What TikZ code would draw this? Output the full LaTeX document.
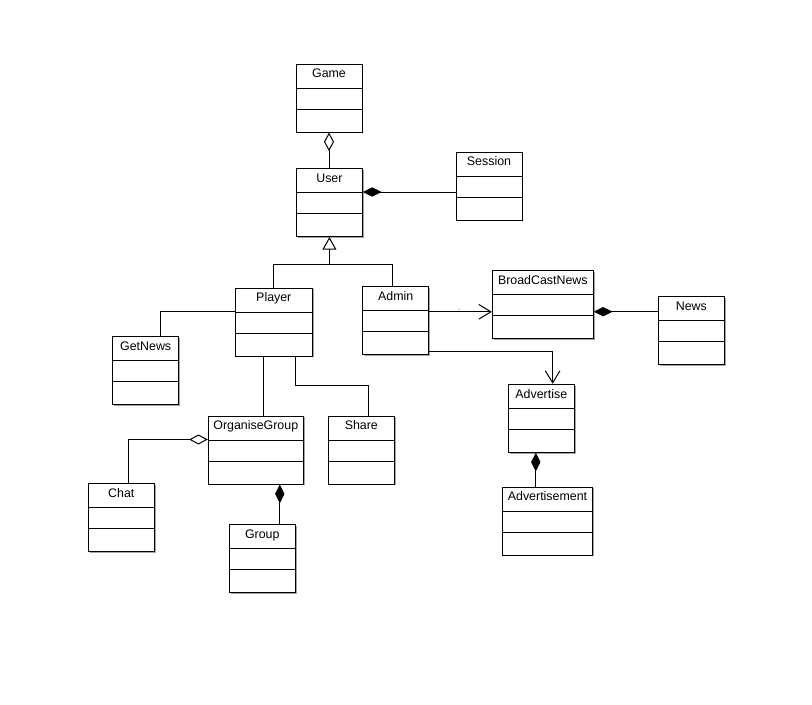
\documentclass[tikz,border=0pt]{standalone}
\usepackage{fontspec}
\setmainfont{Liberation Sans}
\usetikzlibrary{arrows.meta}
\usetikzlibrary{calc}
\usetikzlibrary{shadows}

\begin{document}
\begin{tikzpicture}[x=0.75pt,y=-0.75pt,line width=0.75pt,
  classbox/.style={draw,fill=white,
    minimum width={#1*0.75pt},minimum height=51pt,inner sep=0pt,
    drop shadow={shadow xshift=1.1pt,shadow yshift=-1.1pt,fill=black!35,opacity=1},
    path picture={
      \draw[line width=0.75pt]
        (path picture bounding box.north west) ++(0,24) -- ++(140,0)
        (path picture bounding box.north west) ++(0,45) -- ++(140,0);
      }},
  classbox/.default=66,
  classname/.style={anchor=north,inner sep=0pt,yshift=-3.7pt,
    font=\fontsize{9.3}{10}\selectfont,text height=6.7pt,text depth=1.8pt},
  composition/.style={{Diamond[length=14pt,width=7pt]}-},
  aggregation/.style={{Diamond[open,length=14pt,width=7.5pt]}-},
  generalization/.style={-{Triangle[open,length=9.5pt,width=10.5pt]}},
  dependency/.style={-{Straight Barb[length=9pt,width=11pt]}}]
      %\draw[help lines] (0,0) grid[step=50] (812,704); % Only for Development
      \useasboundingbox (0,0) rectangle (812,704);

      % classes
      \node[classbox,label={[classname]north:Game}] (game) at (329,98) {};
      \node[classbox,label={[classname]north:User}] (user) at (329.4,202.5) {};
      \node[classbox,label={[classname]north:Session}] (session) at (489,186) {};
      \node[classbox=77,label={[classname]north:Player}] (player) at (273.8,322) {};
      \node[classbox,label={[classname]north:Admin}] (admin) at (395.7,320.3) {};
      \node[classbox,label={[classname]north:GetNews}] (getnews) at (145.7,370.3) {};
      \node[classbox=95,label={[classname]north:OrganiseGroup}] (organisegroup) at (255.8,450) {};
      \node[classbox,label={[classname]north:Share}] (share) at (361.3,450) {};
      \node[classbox,label={[classname]north:Chat}] (chat) at (121.3,517.2) {};
      \node[classbox,label={[classname]north:Group}] (group) at (262.3,558.3) {};
      \node[classbox=101,label={[classname]north:BroadCastNews}] (broadcastnews) at (542.8,304.2) {};
      \node[classbox,label={[classname]north:News}] (news) at (691.3,330.3) {};
      \node[classbox,label={[classname]north:Advertise}] (advertise) at (541.3,418.2) {};
      \node[classbox=90,label={[classname]north:Advertisement}] (advertisement) at (547.5,521) {};

      % Game - User
      \draw[aggregation] (game.south) -- (game.south |- user.north);
      % User - Session
      \draw[composition] ($(user.north east)+(0,24)$) coordinate (us) -- (us -| session.west);
      % User - Player, Admin
      \coordinate (inh) at ($(user.south)+(0,27.6)$);
      \draw[generalization] (inh) -- (user.south);
      \draw (player.north) |- (inh) -| ([xshift=-2.2pt]admin.north);

      % Player
      \draw ($(player.north west)+(0,24)$) -| ([xshift=11pt]getnews.north);
      \draw ($(player.south west)+(29,0)$) coordinate (po) -- (po |- organisegroup.north);
      \draw ($(player.south west)+(61,0)$) -- ++(0,29) -| ([xshift=5.25pt]share.north);

      % OrganiseGroup
      \draw[aggregation] ($(organisegroup.north west)+(0,24)$) -| ([xshift=5.25pt]chat.north);
      \draw[composition] ($(organisegroup.south west)+(72,0)$) coordinate (og) -- (og |- group.north);

      % Admin
      \draw[dependency] ($(admin.north east)+(0,26)$) coordinate (ab) -- (ab -| broadcastnews.west)
        node[pos=0.48,above,inner sep=0.3pt,font=\tiny] {.};
      \draw[dependency] ($(admin.north east)+(0,66)$) -| ([xshift=8.5pt]advertise.north);

      % BroadCastNews - News
      \draw[composition] ($(broadcastnews.north east)+(0,42)$) coordinate (bn) -- (bn -| news.west);
      % Advertise - Advertisement
      \draw[composition] ($(advertise.south west)+(28,0)$) coordinate (aa) -- (aa |- advertisement.north);

\end{tikzpicture}
\end{document}
